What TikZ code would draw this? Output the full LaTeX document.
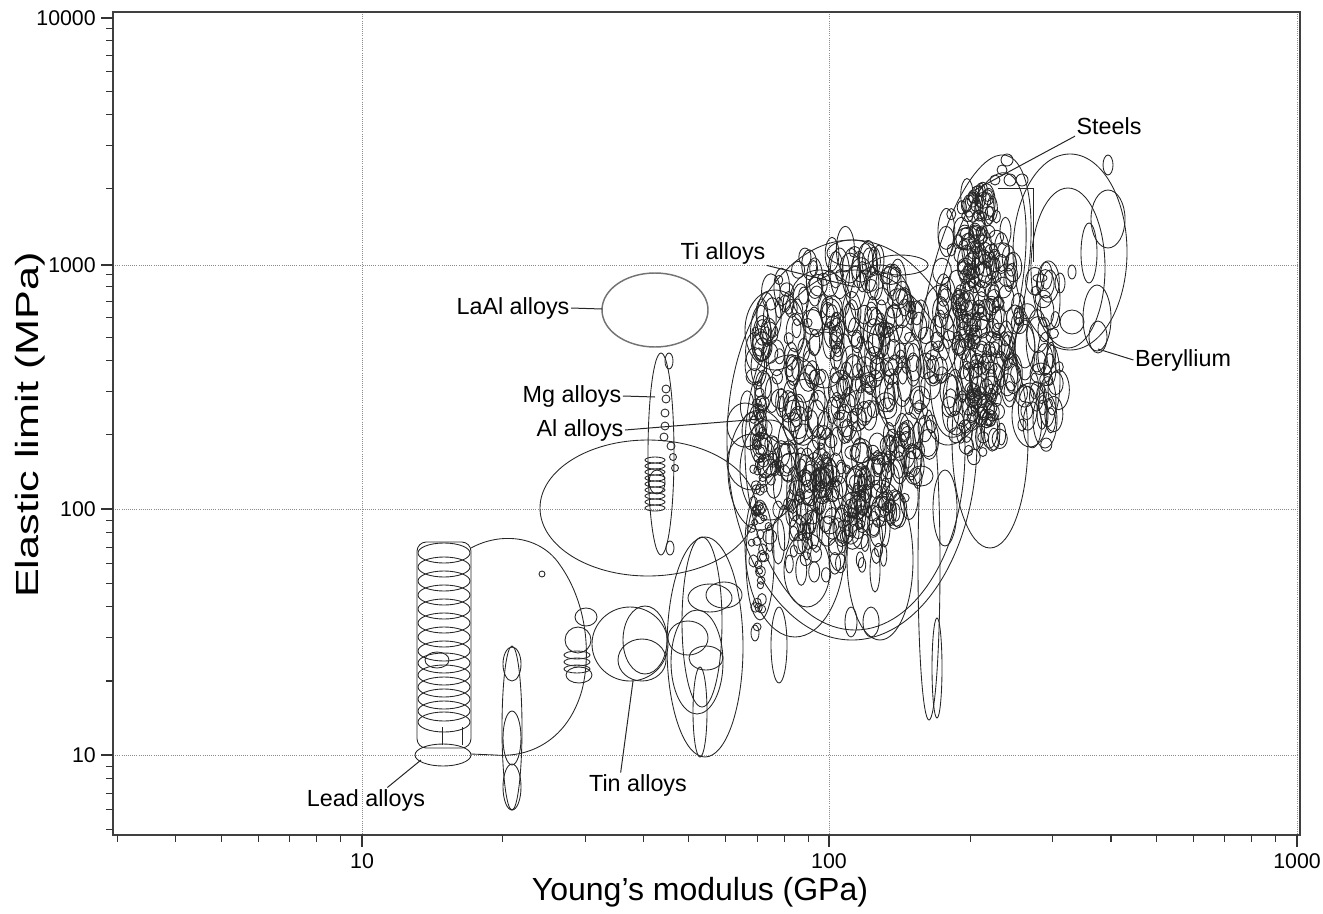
\documentclass[tikz,border=0pt]{standalone}
\usepackage{fontspec}
\setmainfont{Liberation Sans}
\usepackage{tikz}
\tikzset{
blob/.style={ % outline of one material bubble
draw=black!85,
line width=0.65pt},
laalblob/.style={ % the lone LaAl bubble is drawn softer
draw=black!55,
line width=1.1pt},
matlabel/.style={font=\fontsize{17.5}{20}\selectfont, inner sep=1pt},
leader/.style={draw=black!85, line width=0.75pt},
tickline/.style={draw=black!80, line width=0.8pt},
ticklabel/.style={font=\fontsize{16}{18}\selectfont, inner sep=0pt},
axistitle/.style={font=\fontsize{24}{28}\selectfont, inner sep=0pt},
gridline/.style={draw=black!45, densely dotted, line width=0.6pt}}

% scatter of small bubbles: count, centre x, centre y, half width, half height, min radius, radius spread, stretch
\newcommand{\bubblefield}[8]{%
\foreach \n in {1,...,#1}{
\pgfmathsetmacro{\brad}{sqrt(rnd)}
\pgfmathsetmacro{\bang}{360*rnd}
\pgfmathsetmacro{\bx}{#2+#4*\brad*cos(\bang)}
\pgfmathsetmacro{\by}{#3+#5*\brad*sin(\bang)}
\pgfmathsetmacro{\ba}{#6+#7*rnd}
\pgfmathsetmacro{\bb}{\ba*(0.9+#8*rnd)}
\draw[blob] (\bx,\by) ellipse [x radius=\ba, y radius=\bb];
}}

\begin{document}
\begin{tikzpicture}[x=0.75pt, y=-0.75pt]
\useasboundingbox (0,0) rectangle (1323,913);

% grid
\foreach \gx in {362,829,1297} \draw[gridline] (\gx,12) -- (\gx,835);
\foreach \gy in {265,509,755} \draw[gridline] (113,\gy) -- (1300,\gy);

% lead alloys
\foreach \cy in {553,567,581,595,609,623,637,651,663,675,687,699,711,722}
\draw[blob] (444,\cy) ellipse [x radius=26, y radius=10];
\draw[blob] (437,660) ellipse [x radius=12, y radius=8];
\draw[blob, rounded corners=7] (417,542) rectangle (471,748);
\draw[blob] (443,755) ellipse [x radius=28, y radius=11];
\draw[blob] (442,727) -- (442,745) (462,727) -- (462,745);
\draw[blob] (471,548) .. controls (500,532) and (540,535) .. (560,565)
.. controls (585,600) and (592,650) .. (582,690)
.. controls (568,740) and (530,758) .. (495,755) -- (471,754);
\draw[blob] (542,574) circle [radius=3];
\foreach \x/\y/\a/\b in {512/728/10/82, 512/664/9/17, 512/738/9/27, 512/787/9/23}
\draw[blob] (\x,\y) ellipse [x radius=\a, y radius=\b];

% tin alloys
\foreach \x/\y/\a/\b in {586/617/11/9, 578/640/13/13, 577/655/13/4, 577/662/13/4, 577/669/13/4,
579/675/13/8, 630/644/38/37, 645/640/22/34, 642/660/24/21}
\draw[blob] (\x,\y) ellipse [x radius=\a, y radius=\b];

% group near 50 GPa
\foreach \x/\y/\a/\b in {705/647/38/110, 702/622/20/85, 724/595/18/13, 710/598/22/14,
688/638/20/17, 706/658/17/12, 700/712/7/45, 697/662/26/52}
\draw[blob] (\x,\y) ellipse [x radius=\a, y radius=\b];

% big soft bubble, LaAl, Mg column
\draw[blob] (648,508) ellipse [x radius=108, y radius=68];
\draw[laalblob] (655,310) ellipse [x radius=53, y radius=37];
\draw[blob] (661,454) ellipse [x radius=13, y radius=101];
\foreach \x/\y/\a/\b in {669/361/4/8, 666/389/4/4, 666/399/4/4, 665/413/4/4, 665/426/4/4,
664/437/4/4, 671/446/4/4, 673/457/3.5/3.5, 675/468/3.5/3.5, 657/482/8/12, 670/548/4/7}
\draw[blob] (\x,\y) ellipse [x radius=\a, y radius=\b];
\foreach \y in {460,466,...,512} \draw[blob] (655,\y) ellipse [x radius=10, y radius=3];

% main cluster: large envelopes
\foreach \x/\y/\a/\b in {852/440/125/200, 855/450/110/180, 1070/252/57/98, 1068/268/37/80,
1108/219/17/29, 1108/165/5/10, 1089/253/8/30, 1097/318/14/33, 1072/322/12/12, 1098/337/9/16,
1040/278/7/4, 1060/283/5/10, 1072/272/4/7, 1050/300/10/30, 1045/420/12/28, 1030/415/18/32,
1022/425/4/6, 1052/380/8/35, 1025/350/10/30, 990/440/38/108, 945/508/12/38, 921/476/12/10,
929/565/11/155, 937/668/5/50, 880/560/33/80, 807/570/23/37, 795/545/50/92, 779/645/8/38,
755/633/4/8, 851/622/6/15, 871/622/8/15, 875/570/5/22, 760/560/14/60, 745/425/18/22,
752/462/25/28, 760/470/32/60, 900/265/28/10, 852/253/25/13, 850/268/10/15,
775/330/30/40, 790/400/35/45, 770/470/30/50, 820/300/30/30, 880/300/30/35, 900/380/25/55,
860/450/30/60, 825/360/22/28, 940/330/20/45,
1007/160/6/6, 1002/170/5/5, 1010/180/6/6, 1022/180/6/6, 995/180/5/5}
\draw[blob] (\x,\y) ellipse [x radius=\a, y radius=\b];
\draw[blob] (975,300) ellipse [x radius=48, y radius=148, rotate=-12];
\draw[blob] (978,305) ellipse [x radius=40, y radius=135, rotate=-12];
\draw[blob] (998,188) -- (1033,188) -- (1033,262);

% main cluster: small bubbles
\pgfmathsetseed{2718}
\bubblefield{420}{840}{395}{98}{150}{3.5}{7}{2.0}
\bubblefield{170}{978}{320}{42}{140}{3.5}{6}{2.0}
\bubblefield{40}{1038}{360}{22}{95}{4}{7}{2.2}
\bubblefield{55}{758}{505}{7}{125}{3}{2}{0.5}
\bubblefield{110}{978}{320}{22}{145}{4}{3}{0.6}
\bubblefield{60}{830}{525}{65}{55}{3}{4}{3.5}

% labels and leaders
\node[matlabel] (steels) at (1109,126) {Steels};
\node[matlabel] (tialloys) at (723,253) {Ti alloys};
\node[matlabel] (laal) at (513,308) {LaAl alloys};
\node[matlabel] (mgalloys) at (572,396) {Mg alloys};
\node[matlabel] (alalloys) at (580,430) {Al alloys};
\node[matlabel] (beryllium) at (1183,360) {Beryllium};
\node[matlabel] (leadalloys) at (366,800) {Lead alloys};
\node[matlabel] (tinalloys) at (638,785) {Tin alloys};
\coordinate (steelsTip) at (975,190);
\coordinate (tiTip) at (855,287);
\coordinate (laalTip) at (602,309);
\coordinate (mgTip) at (655,397);
\coordinate (alTip) at (760,419);
\coordinate (beTip) at (1098,349);
\coordinate (leadTip) at (421,760);
\coordinate (tinTip) at (633,681);
\draw[leader] (steels.south west) -- (steelsTip);
\draw[leader] (tialloys.south east) -- (tiTip);
\draw[leader] (laal.east) -- (laalTip);
\draw[leader] (mgalloys.east) -- (mgTip);
\draw[leader] (alalloys.east) -- (alTip);
\draw[leader] (beryllium.west) -- (beTip);
\draw[leader] ([xshift=16pt]leadalloys.north) -- (leadTip);
\draw[leader] ([xshift=-13pt]tinalloys.north) -- (tinTip);

% axes
\draw[black!75, line width=1pt] (113,12) rectangle (1300,835);
\foreach \d in {0,1,2,3}{
\foreach \m in {2,...,9}{
\pgfmathsetmacro{\ty}{755-246*(\d-1+log10(\m))}
\ifdim\ty pt<835pt \draw[tickline] (113,\ty) -- (106,\ty); \fi
}}
\foreach \d in {0,1,2}{
\foreach \m in {2,...,9}{
\pgfmathsetmacro{\tx}{362+467.5*(\d-1+log10(\m))}
\ifdim\tx pt>113pt \draw[tickline] (\tx,835) -- (\tx,842); \fi
}}
\foreach \ty/\tl in {18/10000, 265/1000, 509/100, 755/10}{
\draw[tickline] (113,\ty) -- (101,\ty);
\node[ticklabel, anchor=east] (ytick\tl) at (96,\ty) {\tl};
}
\foreach \tx/\tl in {362/10, 829/100, 1297/1000}{
\draw[tickline] (\tx,835) -- (\tx,847);
\node[ticklabel] (xtick\tl) at (\tx,861) {\tl};
}
\node[axistitle] (xtitle) at (700,892) {Young's modulus (GPa)};
\node[axistitle, rotate=90, xscale=1.35] (ytitle) at (30,425) {Elastic limit (MPa)};
\end{tikzpicture}
\end{document}
